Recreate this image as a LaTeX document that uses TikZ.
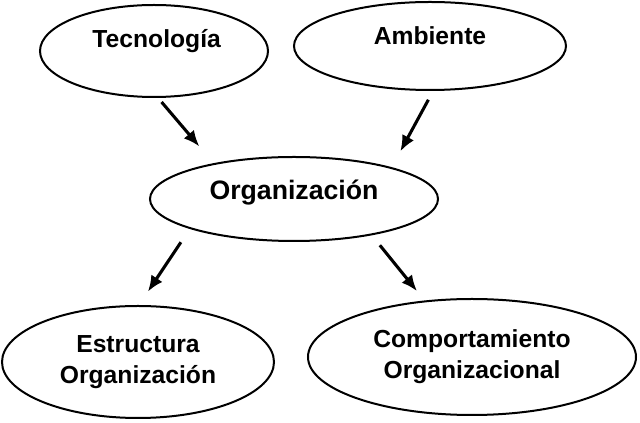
\documentclass[tikz,border=0pt]{standalone}
\usepackage{fontspec}
\setmainfont{Liberation Sans}
\usetikzlibrary{shapes.geometric,arrows.meta}
\begin{document}
\begin{tikzpicture}
[x=0.75pt,y=-0.75pt,
	 concept/.style={ellipse,draw=black,line width=1.5pt,fill=white,inner sep=0pt,align=center,font=\fontsize{18.5}{23}\selectfont\bfseries},
	 concepttext/.style={align=center,font=\fontsize{18.5}{23}\selectfont\bfseries},
	 blackarrow/.style={-{Latex[length=12pt,width=10pt]},line width=2.3pt,black}];
\useasboundingbox (0,0) rectangle (640,423);

\node[concept,minimum width=171pt,minimum height=69pt,label={[concepttext,xshift=2pt,yshift=7.5pt]center:Tecnología}] (tecnologia) at (154,51) {};
\node[concept,minimum width=204pt,minimum height=66pt,label={[concepttext,yshift=8pt]center:Ambiente}] (ambiente) at (430,46) {};
\node[concept,minimum width=216pt,minimum height=63pt,label={[concepttext,font=\fontsize{20}{24}\selectfont\bfseries,yshift=4.5pt]center:Organización}] (organizacion) at (294,199) {};
\node[concept,minimum width=204pt,minimum height=84pt] (estructura) at (138,362) {Estructura\\Organización};
\node[concept,minimum width=246pt,minimum height=87pt] (comportamiento) at (472,357) {Comportamiento\\Organizacional};

\draw[blackarrow,shorten <=4pt,shorten >=16.5pt] (tecnologia.-85) -- (organizacion.156);
\draw[blackarrow,shorten <=7.5pt,shorten >=13.5pt] (ambiente.-86) -- (organizacion.18);
\draw[blackarrow,shorten <=12pt,shorten >=12pt] (organizacion.196) -- (estructura.89);
\draw[blackarrow,shorten <=9.6pt,shorten >=9pt] (organizacion.-25) -- (comportamiento.130);

\end{tikzpicture}
\end{document}
